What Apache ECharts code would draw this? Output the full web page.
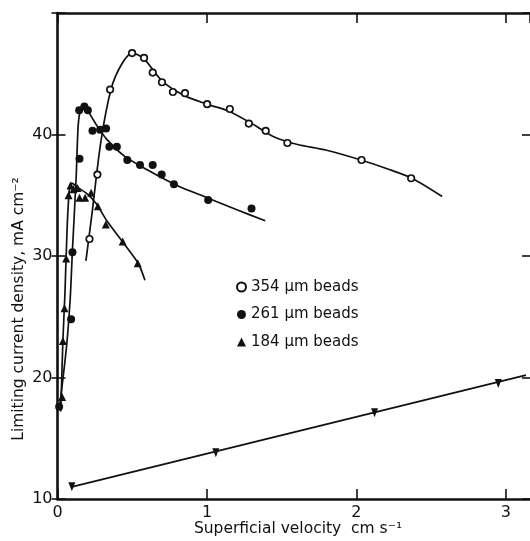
<!DOCTYPE html>
<html>
<head>
<meta charset="utf-8">
<script src="https://cdn.jsdelivr.net/npm/echarts@6/dist/echarts.min.js"></script>
<style>
  html, body { margin: 0; padding: 0; background: #fff; }
  #chart { width: 530px; height: 541px; }
</style>
</head>
<body>
<div id="chart"></div>
<script>
// Measured points: [superficial velocity (cm/s), limiting current density (mA/cm2)]
var beads354 = [[0.214,31.4],[0.267,36.7],[0.352,43.7],[0.499,46.7],[0.579,46.3],[0.637,45.1],[0.699,44.3],[0.772,43.5],[0.853,43.4],[1.001,42.5],[1.153,42.1],[1.280,40.9],[1.393,40.3],[1.538,39.3],[2.034,37.9],[2.366,36.4]];
var beads261 = [[0.011,17.6],[0.091,24.8],[0.100,30.3],[0.147,38.0],[0.145,42.0],[0.180,42.3],[0.203,42.0],[0.234,40.3],[0.285,40.4],[0.325,40.5],[0.347,39.0],[0.397,39.0],[0.467,37.9],[0.552,37.5],[0.637,37.5],[0.697,36.7],[0.779,35.9],[1.008,34.6],[1.298,33.9]];
var beads184 = [[0.031,18.4],[0.036,23.0],[0.047,25.7],[0.058,29.8],[0.074,35.0],[0.087,35.8],[0.107,35.5],[0.134,35.6],[0.147,34.8],[0.185,34.8],[0.225,35.2],[0.270,34.1],[0.323,32.6],[0.436,31.2],[0.537,29.4]];
var emptyBed = [[0.096,11.0],[1.059,13.8],[2.121,17.1],[2.949,19.5]];

// Hand-fitted trend curves
var curve354 = [[0.19,29.6],[0.23,33.4],[0.29,39.4],[0.36,43.8],[0.43,45.8],[0.5,46.7],[0.58,46.2],[0.7,44.4],[0.85,43.2],[1.0,42.5],[1.15,41.9],[1.3,40.9],[1.45,39.8],[1.6,39.2],[1.8,38.7],[2.03,37.9],[2.2,37.2],[2.37,36.4],[2.573,34.9]];
var curve261 = [[0.012,17.4],[0.06,22.5],[0.085,26.5],[0.1,30.5],[0.125,36.5],[0.14,41.0],[0.165,42.4],[0.2,42.0],[0.26,40.8],[0.33,39.6],[0.45,38.2],[0.6,37.1],[0.8,35.8],[1.0,34.8],[1.2,33.8],[1.39,32.9]];
var curve184 = [[0.022,17.2],[0.036,23.0],[0.05,27.0],[0.065,32.5],[0.08,35.5],[0.095,36.0],[0.14,35.6],[0.2,35.1],[0.26,34.3],[0.33,32.9],[0.44,31.1],[0.54,29.4],[0.585,28.0]];
var curveBed = [[0.096,11.0],[3.134,20.2]];

var xTicks = [0, 1, 2, 3];
var yTicks = [10, 20, 30, 40];
var legendNames = ['354 \u03bcm beads', '261 \u03bcm beads', '184 \u03bcm beads'];

var ink = '#111';
var font = 'DejaVu Sans';

var chart = echarts.init(document.getElementById('chart'));

function curve(data, smooth) {
  return {
    type: 'line', data: data, smooth: smooth,
    showSymbol: false, silent: true,
    lineStyle: { color: ink, width: 1.7 }, z: 2
  };
}

chart.setOption({
  animation: false,
  backgroundColor: '#fff',
  textStyle: { fontFamily: font, color: ink },
  grid: { left: 57.5, top: 13, right: -1, bottom: 42, containLabel: false },
  xAxis: [
    {
      type: 'value', min: 0, max: 3.161, interval: 1, position: 'bottom',
      axisLine: { lineStyle: { color: ink, width: 2.6 } },
      axisTick: { inside: true, length: 10, lineStyle: { color: ink, width: 1.6 } },
      axisLabel: {
        fontSize: 16, color: ink, margin: 6, fontFamily: font,
        formatter: function (v) { return xTicks.indexOf(v) >= 0 ? String(v) : ''; },
        showMaxLabel: false
      },
      splitLine: { show: false }
    },
    {
      type: 'value', min: 0, max: 3.161, interval: 1, position: 'top',
      axisLine: { lineStyle: { color: ink, width: 2.6 } },
      axisTick: { inside: true, length: 10, lineStyle: { color: ink, width: 1.6 } },
      axisLabel: { show: false }, splitLine: { show: false }
    }
  ],
  yAxis: [
    {
      type: 'value', min: 10, max: 50, interval: 10, position: 'left',
      axisLine: { lineStyle: { color: ink, width: 2.6 } },
      axisTick: { inside: true, length: 8, lineStyle: { color: ink, width: 1.6 } },
      axisLabel: {
        fontSize: 16, color: ink, margin: 5, fontFamily: font,
        formatter: function (v) { return yTicks.indexOf(v) >= 0 ? String(v) : ''; }
      },
      splitLine: { show: false }
    },
    {
      type: 'value', min: 10, max: 50, interval: 10, position: 'left',
      axisLine: { show: false },
      axisTick: { inside: false, length: 6, lineStyle: { color: ink, width: 1.6 } },
      axisLabel: { show: false }, splitLine: { show: false }
    },
    {
      type: 'value', min: 10, max: 50, interval: 10, position: 'right',
      axisLine: { show: false },
      axisTick: { inside: true, length: 8, lineStyle: { color: ink, width: 1.6 } },
      axisLabel: { show: false }, splitLine: { show: false }
    }
  ],
  legend: {
    orient: 'vertical', left: 231, top: 274,
    itemWidth: 9, itemHeight: 9, itemGap: 11.5,
    textStyle: { fontSize: 15, color: ink, fontFamily: font, lineHeight: 16 },
    data: legendNames, selectedMode: false
  },
  graphic: [
    {
      type: 'text', x: 19, y: 309, rotation: Math.PI / 2,
      style: {
        text: 'Limiting current density, mA cm\u207b\u00b2',
        fontSize: 15.5, fontFamily: font, fill: ink,
        textAlign: 'center', textVerticalAlign: 'middle'
      }
    },
    {
      type: 'text', x: 298, y: 529,
      style: {
        text: 'Superficial velocity  cm s\u207b\u00b9',
        fontSize: 15.5, fontFamily: font, fill: ink,
        textAlign: 'center', textVerticalAlign: 'middle'
      }
    }
  ],
  series: [
    curve(curve354, 0.3),
    curve(curve261, 0.25),
    curve(curve184, 0.25),
    curve(curveBed, false),
    {
      name: legendNames[0], type: 'scatter', data: beads354, symbol: 'circle', symbolSize: 6.5,
      itemStyle: { color: '#fff', borderColor: ink, borderWidth: 1.7, opacity: 1 }, z: 5
    },
    {
      name: legendNames[1], type: 'scatter', data: beads261, symbol: 'circle', symbolSize: 8,
      itemStyle: { color: ink, opacity: 1 }, z: 5
    },
    {
      name: legendNames[2], type: 'scatter', data: beads184, symbol: 'triangle', symbolSize: 8,
      itemStyle: { color: ink, opacity: 1 }, z: 5
    },
    {
      name: 'empty bed', type: 'scatter', data: emptyBed, symbol: 'triangle', symbolRotate: 180,
      symbolSize: [7, 9], itemStyle: { color: ink, opacity: 1 }, z: 5
    }
  ]
});
</script>
</body>
</html>
